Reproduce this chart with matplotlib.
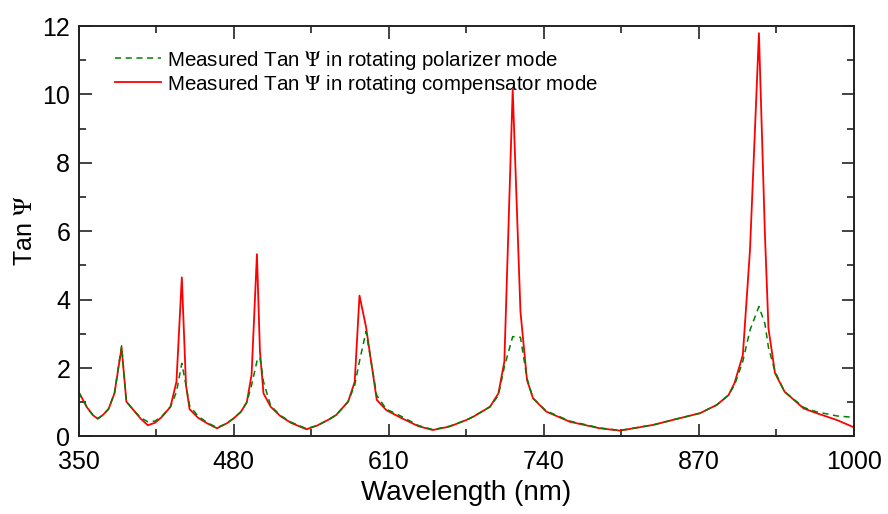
import matplotlib
matplotlib.use("Agg")
import matplotlib.pyplot as plt

plt.rcParams['font.family'] = ['Liberation Sans', 'DejaVu Sans']
plt.rcParams['mathtext.fontset'] = 'stix'

# wavelength grid (nm)
wavelength = [350, 357, 362, 366, 370, 375, 380, 386, 390, 396, 402, 408, 414, 420,
              427, 432, 436.5, 440, 443, 450, 458, 466, 474, 480, 486, 491, 495, 499.5,
              502, 505, 511, 519, 528, 541, 550, 560, 566, 576, 581.5, 585.5, 591, 600,
              608, 620, 635, 647, 661, 675, 681, 695, 702, 707, 714, 720.5, 726, 731,
              742, 762, 787, 804, 832, 850, 871, 885, 895, 900, 907, 913, 920.5, 925.5,
              928.5, 934, 942, 958, 969, 986, 1000]

# rotating compensator mode (red)
tan_comp = [1.30, 0.85, 0.62, 0.52, 0.62, 0.80, 1.26, 2.60, 1.02, 0.77, 0.52, 0.33, 0.40, 0.58,
            0.87, 1.60, 4.65, 1.50, 0.80, 0.55, 0.38, 0.24, 0.38, 0.53, 0.72, 1.00, 1.80, 5.33,
            2.50, 1.26, 0.87, 0.60, 0.40, 0.21, 0.32, 0.50, 0.63, 1.02, 1.60, 4.12, 3.20, 1.07,
            0.77, 0.55, 0.30, 0.19, 0.29, 0.48, 0.58, 0.87, 1.26, 2.19, 10.15, 3.65, 1.65, 1.12,
            0.73, 0.43, 0.24, 0.17, 0.34, 0.50, 0.68, 0.92, 1.21, 1.56, 2.38, 5.45, 11.79, 5.94,
            3.16, 1.85, 1.31, 0.82, 0.68, 0.48, 0.27]

# rotating polarizer mode (green dashed)
tan_pol = [1.30, 0.85, 0.62, 0.52, 0.62, 0.80, 1.26, 2.65, 1.02, 0.77, 0.55, 0.43, 0.45, 0.60,
           0.87, 1.30, 2.14, 1.50, 0.90, 0.60, 0.40, 0.26, 0.38, 0.53, 0.72, 1.00, 1.50, 2.20,
           2.32, 1.60, 0.90, 0.62, 0.42, 0.23, 0.32, 0.50, 0.63, 1.02, 1.50, 2.20, 3.07, 1.20,
           0.80, 0.60, 0.32, 0.20, 0.30, 0.48, 0.58, 0.87, 1.20, 2.04, 2.92, 2.90, 1.70, 1.12,
           0.75, 0.45, 0.25, 0.18, 0.34, 0.50, 0.68, 0.92, 1.21, 1.50, 2.20, 3.11, 3.80, 3.30,
           2.60, 1.90, 1.31, 0.85, 0.72, 0.60, 0.56]

x_ticks = [350, 480, 610, 740, 870, 1000]
x_minor = [415, 545, 675, 805, 935]
y_ticks = [0, 2, 4, 6, 8, 10, 12]
y_minor = [1, 3, 5, 7, 9, 11]

fig = plt.figure(figsize=(8.88, 5.14), dpi=100)
ax = fig.add_axes([0.0886, 0.1508, 0.8728, 0.7986])

l_red, = ax.plot(wavelength, tan_comp, color='#ff0000', lw=1.3,
                 label='Measured Tan $\\Psi$ in rotating compensator mode')
l_grn, = ax.plot(wavelength, tan_pol, color='#008000', lw=1.1, dashes=(4, 3),
                 label='Measured Tan $\\Psi$ in rotating polarizer mode')

ax.set_xlim(350, 1000)
ax.set_ylim(0, 12)
ax.set_xticks(x_ticks)
ax.set_xticks(x_minor, minor=True)
ax.set_yticks(y_ticks)
ax.set_yticks(y_minor, minor=True)
ax.tick_params(which='both', direction='in', top=True, right=True, labelsize=18,
               color='#222222', width=1.2)
ax.tick_params(which='major', length=9)
ax.tick_params(which='minor', length=5)
ax.tick_params(axis='x', which='major', pad=10)
ax.tick_params(axis='y', which='major', pad=6)
for lab in ax.get_yticklabels():
    lab.set_verticalalignment('center_baseline')
for s in ax.spines.values():
    s.set_linewidth(1.4)
    s.set_color('#222222')

ax.set_xlabel('Wavelength (nm)', fontsize=20, labelpad=4)
ax.set_ylabel('Tan $\\Psi$', fontsize=18, labelpad=4)

ax.legend(handles=[l_grn, l_red], loc='upper left', bbox_to_anchor=(0.0236, 0.99),
          frameon=False, fontsize=14.8, handlelength=2.2, handletextpad=0.3,
          labelspacing=0.05)

fig.savefig('out.png', dpi=100)
